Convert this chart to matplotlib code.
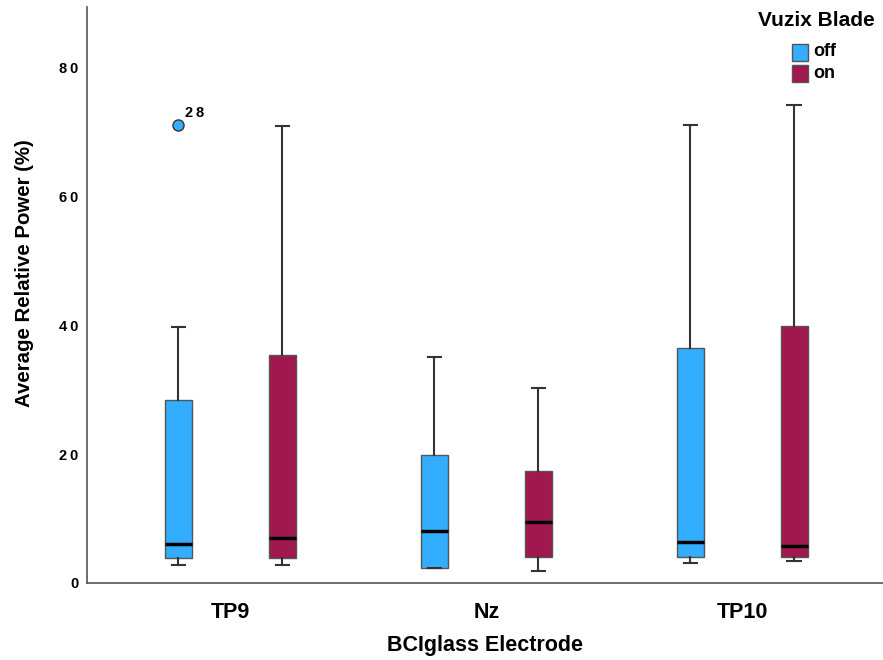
import numpy as np
import matplotlib
matplotlib.use("Agg")
import matplotlib.pyplot as plt
from matplotlib.patches import Rectangle

plt.rcParams['font.family'] = ['Liberation Sans', 'DejaVu Sans']

electrodes = ['TP9', 'Nz', 'TP10']
groups = ['off', 'on']
colors = {'off': '#33AEFF', 'on': '#A0184E'}

# box stats, per electrode: [TP9, Nz, TP10]
whislo = {'off': [2.8, 2.3, 3.1], 'on': [2.8, 1.9, 3.4]}
q1     = {'off': [3.8, 2.3, 4.1], 'on': [3.8, 4.1, 4.0]}
med    = {'off': [6.1, 8.1, 6.4], 'on': [7.0, 9.5, 5.7]}
q3     = {'off': [28.4, 19.8, 36.4], 'on': [35.3, 17.4, 39.8]}
whishi = {'off': [39.7, 35.0, 71.1], 'on': [70.9, 30.3, 74.1]}
fliers = {'off': [[71.0], [], []], 'on': [[], [], []]}
flier_ids = {'off': [['28'], [], []], 'on': [[], [], []]}

yticks = [0, 20, 40, 60, 80]

fig = plt.figure(figsize=(8.83, 6.6), dpi=100)
ax = fig.add_axes([0.0985, 0.1167, 0.9015, 0.8723])

offset = 0.203
width = 0.105
x = np.arange(len(electrodes))

def spaced(s):
    return '\u2009'.join(s)

for k, g in enumerate(groups):
    stats = []
    for i in range(len(electrodes)):
        stats.append(dict(whislo=whislo[g][i], q1=q1[g][i], med=med[g][i],
                          q3=q3[g][i], whishi=whishi[g][i], fliers=fliers[g][i]))
    pos = x + (offset if k else -offset)
    ax.bxp(stats, positions=pos, widths=width, patch_artist=True, showfliers=True,
           boxprops=dict(facecolor=colors[g], edgecolor='#555555', linewidth=1),
           medianprops=dict(color='black', linewidth=2.5),
           whiskerprops=dict(color='#333333', linewidth=1.5),
           capprops=dict(color='#333333', linewidth=1.5),
           capwidths=width * 0.5,
           flierprops=dict(marker='o', markersize=8, markerfacecolor=colors[g],
                           markeredgecolor='#333333', markeredgewidth=1))
    for i in range(len(electrodes)):
        for v, lab in zip(fliers[g][i], flier_ids[g][i]):
            ax.annotate(spaced(lab), (pos[i], v), xytext=(5, 6), textcoords='offset points',
                        fontsize=10.5, fontweight='bold')

ax.set_xlim(-0.56, 2.55)
ax.set_ylim(0, 89.3)
ax.set_xticks(x)
ax.set_xticklabels(electrodes, fontsize=15.5, fontweight='bold')
ax.set_yticks(yticks)
ax.set_yticklabels([spaced(str(t)) for t in yticks], fontsize=10.5, fontweight='bold')
ax.tick_params(axis='y', length=0, pad=6)
ax.tick_params(axis='x', length=0, pad=14)
for s in ['top', 'right']:
    ax.spines[s].set_visible(False)
for s in ['left', 'bottom']:
    ax.spines[s].set_color('#555555')
    ax.spines[s].set_linewidth(1.2)

ax.set_xlabel('BCIglass Electrode', fontsize=15.5, fontweight='bold', labelpad=8)
ax.set_ylabel('Average Relative Power (%)', fontsize=14.7, fontweight='bold', labelpad=18)
ax.yaxis.label.set_y(0.538)

# legend drawn by hand so the title gap matches
W, H = fig.get_size_inches() * fig.dpi
fig.text(816 / W, 1 - 21 / H, 'Vuzix Blade', fontsize=15, fontweight='bold',
         ha='center', va='center')
for j, g in enumerate(groups):
    yc = 52 + 21 * j
    fig.add_artist(Rectangle((792 / W, 1 - (yc + 8.5) / H), 16 / W, 17 / H,
                             facecolor=colors[g], edgecolor='#555555', linewidth=1,
                             transform=fig.transFigure))
    fig.text(813 / W, 1 - yc / H, g, fontsize=13, fontweight='bold',
             ha='left', va='center')

fig.savefig('out.png', dpi=100)
